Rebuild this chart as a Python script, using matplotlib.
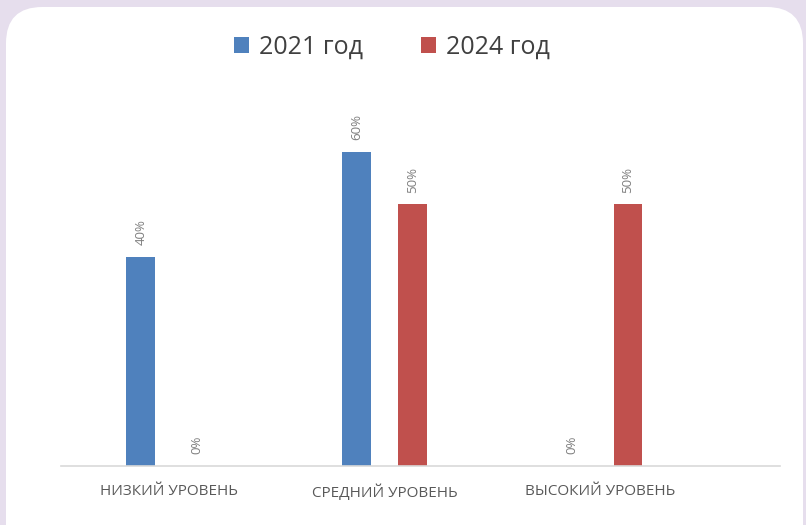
import numpy as np
import matplotlib.pyplot as plt
from matplotlib.patches import FancyBboxPatch

# Data
categories = ["НИЗКИЙ УРОВЕНЬ", "СРЕДНИЙ УРОВЕНЬ", "ВЫСОКИЙ УРОВЕНЬ"]
series_names = ["2021 год", "2024 год"]
values_2021 = [40, 60, 0]
values_2024 = [0, 50, 50]
colors = ["#4f81bd", "#c0504d"]

plt.rcParams['font.family'] = ['Open Sans', 'DejaVu Sans']

W, H = 806, 525
fig = plt.figure(figsize=(W / 100, H / 100), dpi=100)
fig.patch.set_facecolor("#e6deed")

# white rounded card behind the chart
card = FancyBboxPatch((6 / W, -0.1), 797 / W, 1.1 - 7 / H,
                      boxstyle="round,pad=0,rounding_size=0.045",
                      transform=fig.transFigure, facecolor="white",
                      edgecolor="none", zorder=-10, mutation_aspect=W / H)
fig.patches.append(card)

ax = fig.add_axes([61 / W, (H - 466) / H, (780 - 61) / W, (466 - 80) / H])
ax.set_facecolor("none")
ax.set_zorder(1)

x = np.arange(len(categories))
bw = 0.134
off = 0.13
b1 = ax.bar(x - off, values_2021, bw, color=colors[0], label=series_names[0])
b2 = ax.bar(x + off, values_2024, bw, color=colors[1], label=series_names[1])

for bars, vals in ((b1, values_2021), (b2, values_2024)):
    for rect, v in zip(bars, vals):
        ax.text(rect.get_x() + rect.get_width() / 2, v + 2.2, f"{v}%",
                rotation=90, ha="center", va="bottom", fontsize=9.5,
                color="#7f7f7f")

ax.set_xlim(-0.5, 2.835)
ax.set_ylim(0, 60 * 386 / 314)
ax.set_yticks([])
ax.set_xticks(x)
ax.set_xticklabels(categories, fontsize=11, color="#595959")
ax.tick_params(axis="x", length=0, pad=13)
for s in ("top", "right", "left"):
    ax.spines[s].set_visible(False)
ax.spines["bottom"].set_color("#d9d9d9")
ax.spines["bottom"].set_linewidth(1.2)

leg = fig.legend(handles=[b1, b2], loc="center", bbox_to_anchor=(392 / W, 1 - 47 / H),
                 ncol=2, frameon=False, fontsize=18, handlelength=0.6,
                 handleheight=0.6, handletextpad=0.4, columnspacing=2.35)
for t in leg.get_texts():
    t.set_color("#404040")

fig.savefig("out.png", dpi=100, facecolor=fig.get_facecolor())
